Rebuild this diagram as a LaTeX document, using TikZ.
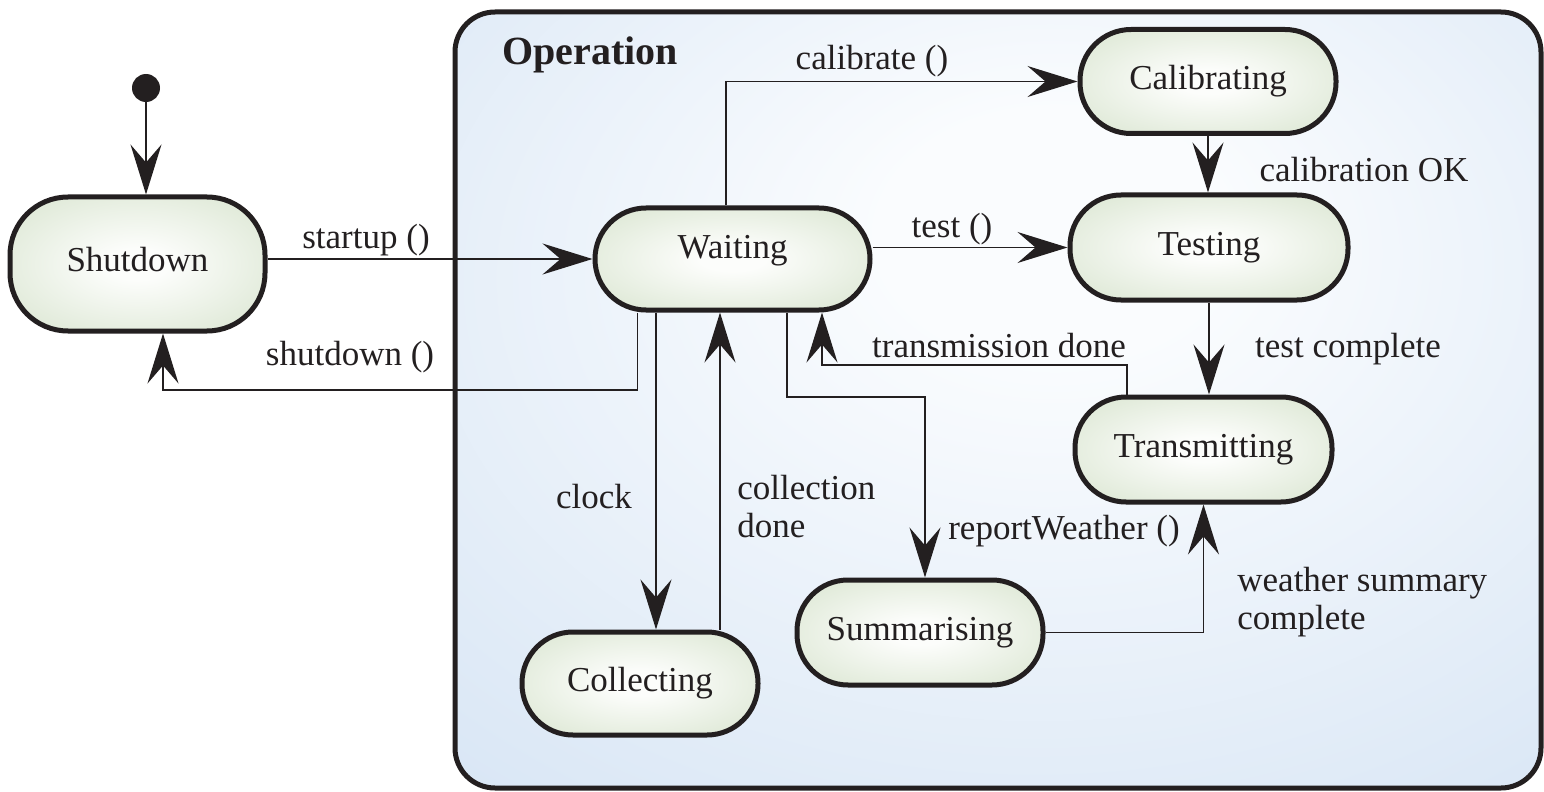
\documentclass[tikz,border=0pt]{standalone}
\usepackage{fontspec}
\setmainfont{Liberation Serif}
\usetikzlibrary{arrows.meta}
\definecolor{ink}{RGB}{35,31,32}
\definecolor{stgreen}{RGB}{210,224,199}
\definecolor{stwhite}{RGB}{252,253,251}
\definecolor{opblue}{RGB}{198,218,240}
\definecolor{opmid}{RGB}{209,225,243}
\definecolor{opwhite}{RGB}{250,252,254}
\pgfdeclareradialshading{stshade}{\pgfpoint{0bp}{0bp}}{color(0bp)=(stwhite); color(6bp)=(stwhite); color(42bp)=(stgreen); color(70bp)=(stgreen)}
\pgfdeclareradialshading{opshade}{\pgfpoint{3bp}{12bp}}{color(0bp)=(opwhite); color(8bp)=(opwhite); color(48bp)=(opmid); color(72bp)=(opblue)}
\tikzset{
  state/.style={draw=ink, line width=2.5pt, rounded corners=25.5pt,
    shading=stshade, text=ink,
    font=\fontsize{17.5}{20}\selectfont, inner sep=0pt},
  lbl/.style={text=ink, font=\fontsize{17.5}{19}\selectfont, inner sep=0pt},
  arr/.style={draw=ink, line width=0.75pt,
    -{Stealth[length=25pt,width=15.5pt,inset=9pt]}},
}
\begin{document}
\begin{tikzpicture}[x=0.5pt,y=-0.5pt]
\useasboundingbox (0,0) rectangle (1544,792);
% operation composite state
\node[draw=ink, line width=2.5pt, rounded corners=20pt, shading=opshade,
  minimum width=543pt, minimum height=388pt, inner sep=0pt]
  (op) at (998,400) {};
\node[text=ink, font=\bfseries\fontsize{20}{24}\selectfont, inner sep=0pt]
  (oplabel) at (590,55) {Operation};
% initial state
\node[circle, fill=ink, minimum size=14pt, inner sep=0pt] (init) at (146,88) {};
% states
\node[state, minimum width=127.5pt, minimum height=67pt, rounded corners=29pt,
  text height=10pt, text depth=3pt] (shutdown) at (137.5,264) {Shutdown};
\node[state, minimum width=137.5pt, minimum height=51pt,
  text height=4pt, text depth=5pt] (waiting) at (732.5,259) {Waiting};
\node[state, minimum width=128pt, minimum height=52pt] (calibrating) at (1208,81.5) {Calibrating};
\node[state, minimum width=139pt, minimum height=52.5pt] (testing) at (1209,247.5) {Testing};
\node[state, minimum width=128.5pt, minimum height=52.5pt] (transmitting) at (1203.5,449.5) {Transmitting};
\node[state, minimum width=123pt, minimum height=52.5pt] (summarising) at (920,632.5) {Summarising};
\node[state, minimum width=118pt, minimum height=51.5pt] (collecting) at (640,683.5) {Collecting};
% bend points
\coordinate (b1) at (163,390);
\coordinate (b2) at (822,365);
\coordinate (b3) at (925,397);
% transitions
\draw[arr] (init) -- (init |- shutdown.north);
\draw[arr] (shutdown.east |- waiting.west) -- (waiting.west);
\draw[arr] ([xshift=-47.5pt]waiting.south) |- (b1) -- (b1 |- shutdown.south);
\draw[arr] ([xshift=-3.25pt]waiting.north) |- (calibrating.west);
\draw[arr] (waiting.east |- testing.west) -- (testing.west);
\draw[arr] (calibrating.south) -- (calibrating.south |- testing.north);
\draw[arr] (testing.south) -- (testing.south |- transmitting.north);
\draw[arr] ([xshift=-38.25pt]transmitting.north) |- (b2) -- (b2 |- waiting.south);
\draw[arr] ([xshift=-38.25pt]waiting.south) -- ([xshift=-38.25pt]waiting.south |- collecting.north);
\draw[arr] ([xshift=40pt]collecting.north) -- ([xshift=40pt]collecting.north |- waiting.south);
\draw[arr] ([xshift=27.25pt]waiting.south) |- (b3) -- (b3 |- summarising.north);
\draw[arr] (summarising.east) -| (transmitting.south);
% labels
\node[lbl] (l1) at (366,240) {startup ()};
\node[lbl] (l2) at (350,357) {shutdown ()};
\node[lbl] (l3) at (872,61) {calibrate ()};
\node[lbl] (l4) at (952,229) {test ()};
\node[lbl] (l5) at (1364,170) {calibration OK};
\node[lbl] (l6) at (999,346) {transmission done};
\node[lbl] (l7) at (1348,349) {test complete};
\node[lbl] (l8) at (594,497) {clock};
\node[lbl, align=left, anchor=west] (l9) at (737,507) {collection\\done};
\node[lbl] (l10) at (1064,531) {reportWeather ()};
\node[lbl, align=left, anchor=west] (l11) at (1237,602) {weather summary\\complete};
\end{tikzpicture}
\end{document}
